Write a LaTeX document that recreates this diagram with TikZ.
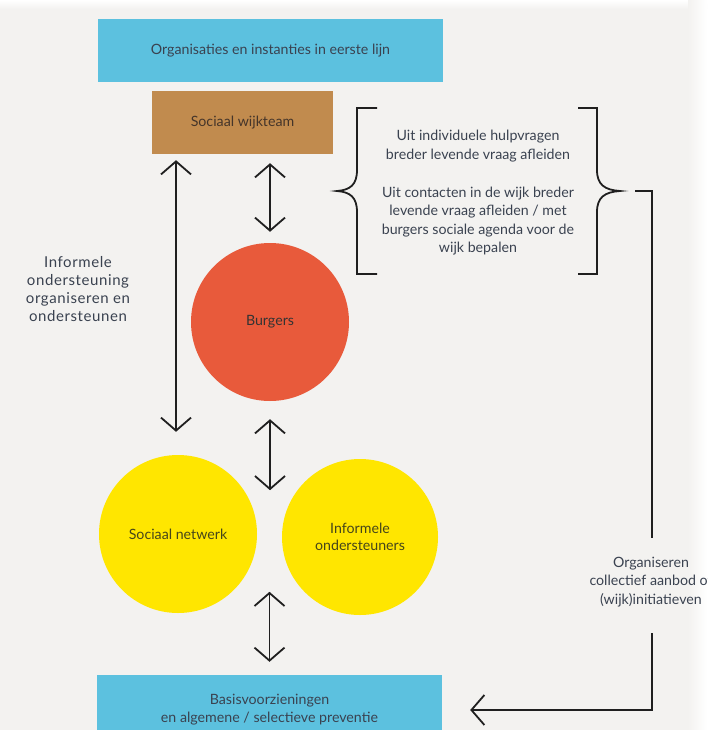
\documentclass[tikz,border=0pt]{standalone}
\usepackage{fontspec}
\setmainfont{Lato}
\usetikzlibrary{arrows.meta}
\definecolor{bg}{HTML}{F3F2F0}
\definecolor{bluebox}{HTML}{5CC1DF}
\definecolor{brownbox}{HTML}{C18B4E}
\definecolor{redc}{HTML}{E85A3B}
\definecolor{yellowc}{HTML}{FFE600}
\definecolor{txt}{HTML}{3A4250}
\definecolor{txtb}{HTML}{45352A}
\definecolor{txty}{HTML}{46461A}
\tikzset{
  box/.style={rectangle, inner sep=0pt, text=txt, align=center, font=\fontsize{14.2}{18}\selectfont},
  circ/.style={circle, inner sep=0pt, align=center, font=\fontsize{14.2}{17}\selectfont},
  lbl/.style={inner sep=0pt, text=txt, align=center, font=\fontsize{14.2}{18.3}\selectfont},
  lblbig/.style={inner sep=0pt, text=txt, align=center, font=\fontsize{15}{18.3}\selectfont\addfontfeatures{LetterSpace=4}},
  dbl/.style={draw=black!88, line width=1.8pt, {Straight Barb[length=13pt,width=30pt]}-{Straight Barb[length=13pt,width=30pt]}},
  arr/.style={draw=black!88, line width=1.8pt, -{Straight Barb[length=13pt,width=30pt]}},
  ln/.style={draw=black!88, line width=1.8pt},
  brk/.style={draw=black!88, line width=1.8pt, line join=miter}
}
\begin{document}
\begin{tikzpicture}[x=1pt,y=-1pt]
\useasboundingbox (0,0) rectangle (707,730);
\begin{scope}
\clip (0,0) rectangle (707,730);
\fill[bg] (0,0) rectangle (707,730);
\shade[top color=white, bottom color=bg] (0,0) rectangle (707,9);
\shade[left color=bg, right color=white] (688,0) rectangle (707,730);

% boxes
\node[box, fill=bluebox, minimum width=345pt, minimum height=63pt] (top) at (270.5,50.5) {Organisaties en instanties in eerste lijn};
\node[box, fill=brownbox, text=txtb, minimum width=181pt, minimum height=63pt] (wijk) at (242.5,122.5) {Sociaal wijkteam};
\node[box, fill=bluebox, minimum width=345pt, minimum height=70pt] (basis) at (269.5,710) {Basisvoorzieningen\\en algemene / selectieve preventie};

% circles
\node[circ, fill=redc, text=black!80, minimum size=158pt] (burg) at (270,322) {Burgers};
\node[circ, fill=yellowc, text=txty, minimum size=158pt] (netw) at (178,534) {Sociaal netwerk};
\node[circ, fill=yellowc, text=txty, minimum size=156pt] (onds) at (360,537) {Informele\\ondersteuners};

% labels
\node[lblbig] (links) at (78,289) {Informele\\ondersteuning\\organiseren en\\ondersteunen};
\node[lbl] (uit1) at (478,146) {Uit individuele hulpvragen\\breder levende vraag afleiden};
\node[lbl] (uit2) at (478,221) {Uit contacten in de wijk breder\\levende vraag afleiden / met\\burgers sociale agenda voor de\\wijk bepalen};
\node[lbl] (org) at (651,582) {Organiseren\\collectief aanbod of\\(wijk)initiatieven};

% arrows
\draw[dbl] ([yshift=-6pt]wijk.south -| 176,0) -- ([yshift=23pt]netw.north -| 176,0);
\draw[dbl] ([yshift=-9pt]wijk.south -| burg.north) -- ([yshift=11pt]burg.north);
\draw[dbl] ([yshift=-18pt]burg.south) -- ([yshift=-89pt]burg.south);
\draw[dbl] ([yshift=13pt]basis.north) -- ([yshift=83pt]basis.north);

% braces
\draw[brk] (377,108) -- (357,108) -- (357,170) .. controls (357,185) and (350,190) .. (337,191) .. controls (350,192) and (357,197) .. (357,212) -- (357,274) -- (377,274);
\draw[brk] (578,108) -- (597,108) -- (597,170) .. controls (597,185) and (605,190) .. (620,191) .. controls (605,192) and (597,197) .. (597,212) -- (597,274) -- (578,274);

% right connector
\coordinate (r0) at (635,191);
\coordinate (r1) at (652,538);
\coordinate (r2) at (652,633);
\draw[ln] (r0) -| (r1);
\draw[arr] (r2) |- ([xshift=28pt]basis.east);
\end{scope}
\end{tikzpicture}
\end{document}
